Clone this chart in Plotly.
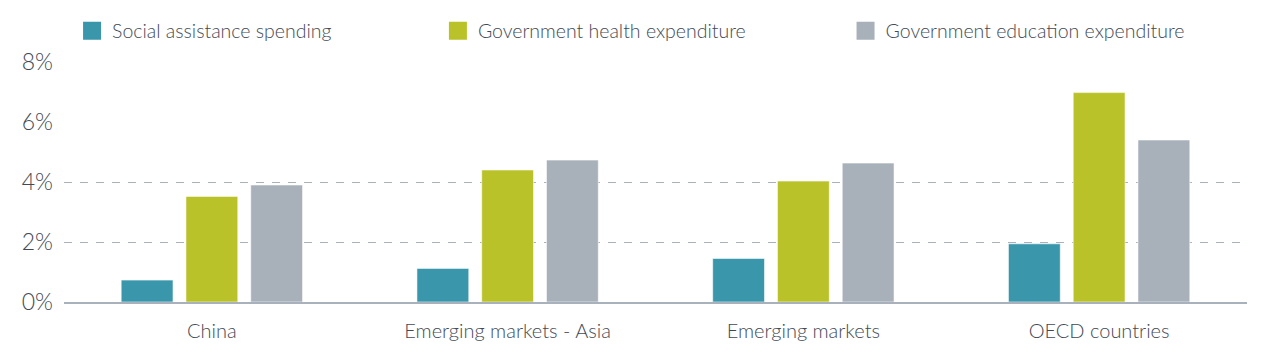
import plotly.graph_objects as go

categories = ["China", "Emerging markets - Asia", "Emerging markets", "OECD countries"]
series_names = ["Social assistance spending", "Government health expenditure", "Government education expenditure"]
social = [0.73, 1.12, 1.45, 1.94]
health = [3.52, 4.40, 4.03, 6.98]
education = [3.90, 4.73, 4.63, 5.40]
y_ticks = [0, 2, 4, 6, 8]
y_tick_text = ["0%", "2%", "4%", "6%", "8%"]
grid_levels = [2, 4]

colors = ["#3a97ab", "#b9c228", "#a8b1ba"]
legend_ids = ["legend", "legend2", "legend3"]
legend_x = [0.0571, 0.347, 0.670]

text_color = "#3f4a55"
font_family = "Lato, 'Open Sans', sans-serif"
font_weight = 300

fig = go.Figure()
for name, vals, col in zip(series_names, [social, health, education], colors):
    fig.add_trace(go.Bar(
        x=categories, y=vals, name=name,
        marker=dict(color=col, line=dict(color="rgba(255,255,255,0.55)", width=1)),
        showlegend=False,
    ))

# legend-only entries (larger square swatches)
for name, col, lid in zip(series_names, colors, legend_ids):
    fig.add_trace(go.Scatter(
        x=[None], y=[None], name=name, mode="markers",
        marker=dict(symbol="square", size=16, color=col, line=dict(color=col, width=2)),
        legend=lid, hoverinfo="skip",
    ))

# invisible trace to host the dashed grid axis
fig.add_trace(go.Scatter(x=[categories[0]], y=[0], yaxis="y2", mode="markers",
                         marker=dict(opacity=0), showlegend=False, hoverinfo="skip"))

legend_common = dict(orientation="h", yref="container", xref="container", y=0.914, yanchor="middle",
                     font=dict(family=font_family, size=19.5, color=text_color, weight=font_weight),
                     bgcolor="rgba(0,0,0,0)", itemclick=False, itemdoubleclick=False)
layout_legends = {}
for lid, lx in zip(legend_ids, legend_x):
    layout_legends[lid] = dict(x=lx, xanchor="left", **legend_common)

fig.update_layout(
    width=1262, height=362,
    margin=dict(l=64, r=15, t=62, b=60, autoexpand=False),
    plot_bgcolor="white", paper_bgcolor="white",
    barmode="group", bargap=0.343, bargroupgap=0.2,
    font=dict(family=font_family, color=text_color, weight=font_weight),
    xaxis=dict(showline=True, linecolor="#a9b2bc", linewidth=2, ticks="",
               tickfont=dict(size=20, color=text_color, weight=font_weight), showgrid=False,
               ticklabelstandoff=10),
    yaxis=dict(range=[0, 8], tickvals=y_ticks, ticktext=y_tick_text, showgrid=False,
               zeroline=False, ticks="", ticklabelstandoff=10,
               tickfont=dict(size=23, color=text_color, weight=font_weight)),
    yaxis2=dict(range=[0, 8], overlaying="y", tickvals=grid_levels, showticklabels=False,
                showgrid=True, gridcolor="#a9b2bc", gridwidth=1, griddash="8px,8px",
                zeroline=False, side="left"),
    **layout_legends,
)

fig.write_html("out.html", post_script="document.body.style.margin='0';",
               config={"displayModeBar": False})
